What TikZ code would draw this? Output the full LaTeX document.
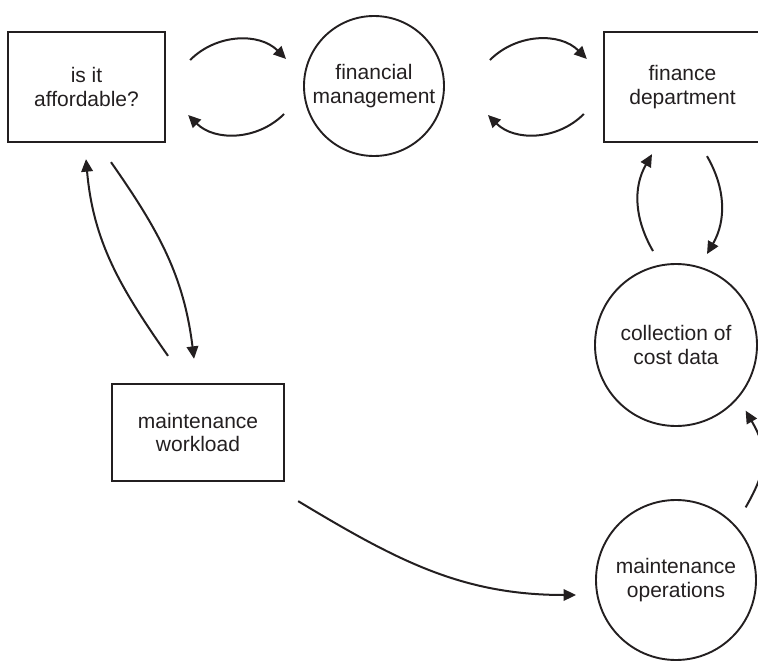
\documentclass[tikz,border=0pt]{standalone}
\usepackage{fontspec}
\setmainfont{Liberation Sans}
\usetikzlibrary{arrows.meta,calc}
\definecolor{ink}{HTML}{231F20}
\begin{document}
\begin{tikzpicture}[x=1pt,y=1pt,
  lbl/.style={font=\fontsize{21}{23.5}\selectfont, align=center, text=ink, inner sep=0pt},
  boxnode/.style={lbl, draw=ink, line width=2.3pt, rectangle},
  circnode/.style={lbl, draw=ink, line width=1.9pt, circle},
  flow/.style={draw=ink, line width=2pt, -{Triangle[length=12.5pt,width=11.5pt]}}
]
\useasboundingbox (0,0) rectangle (758,-661);
\clip (0,0) rectangle (758,-661);

\node[boxnode, minimum width=157pt, minimum height=110pt] (aff) at (86.5,-87) {is it\\affordable?};
\node[circnode, minimum size=140pt] (fin) at (374,-86) {financial\\management};
\node[boxnode, minimum width=157pt, minimum height=110pt] (dept) at (682.5,-87) {finance\\department};
\node[circnode, minimum size=162pt] (coll) at (676,-345) {collection of\\cost data};
\node[circnode, minimum size=160pt] (ops) at (676,-580) {maintenance\\operations};
\node[boxnode, minimum width=172pt, minimum height=97pt] (work) at (198,-432.5) {maintenance\\workload};

% top row
\draw[flow] ([shift={(24,27)}]aff.east) to[out=45,in=135] ([shift={(-17,27)}]fin.west);
\draw[flow] ([shift={(-19,-28)}]fin.west) to[out=-135,in=-45] ([shift={(22,-28)}]aff.east);
\draw[flow] ([shift={(45,26)}]fin.east) to[out=45,in=135] ([shift={(-16,28)}]dept.west);
\draw[flow] ([shift={(-19,-27)}]dept.west) to[out=-135,in=-45] ([shift={(43,-29)}]fin.east);

% right column
\draw[flow] ([shift={(-23,12)}]coll.north) to[out=120,in=-120] ([shift={(-30.5,-11)}]dept.south);
\draw[flow] ([shift={(24.5,-13)}]dept.south) to[out=-60,in=60] ([shift={(31,9)}]coll.north);

% left column
\draw[flow] ([shift={(-30,27)}]work.north) to[out=125,in=-85] ([shift={(-0.5,-16)}]aff.south);
\draw[flow] ([shift={(24.5,-19)}]aff.south) to[out=-55,in=97] ([shift={(-4,24)}]work.north);

% bottom
\draw[flow] ([shift={(13,-19)}]work.south east) to[out=-31,in=180] ([shift={(-19,-15)}]ops.west);
\draw[flow] ([shift={(12.4,15.4)}]ops.45) to[out=60,in=-60,looseness=1.2] ([shift={(11.7,-7.7)}]coll.-45);
\end{tikzpicture}
\end{document}
